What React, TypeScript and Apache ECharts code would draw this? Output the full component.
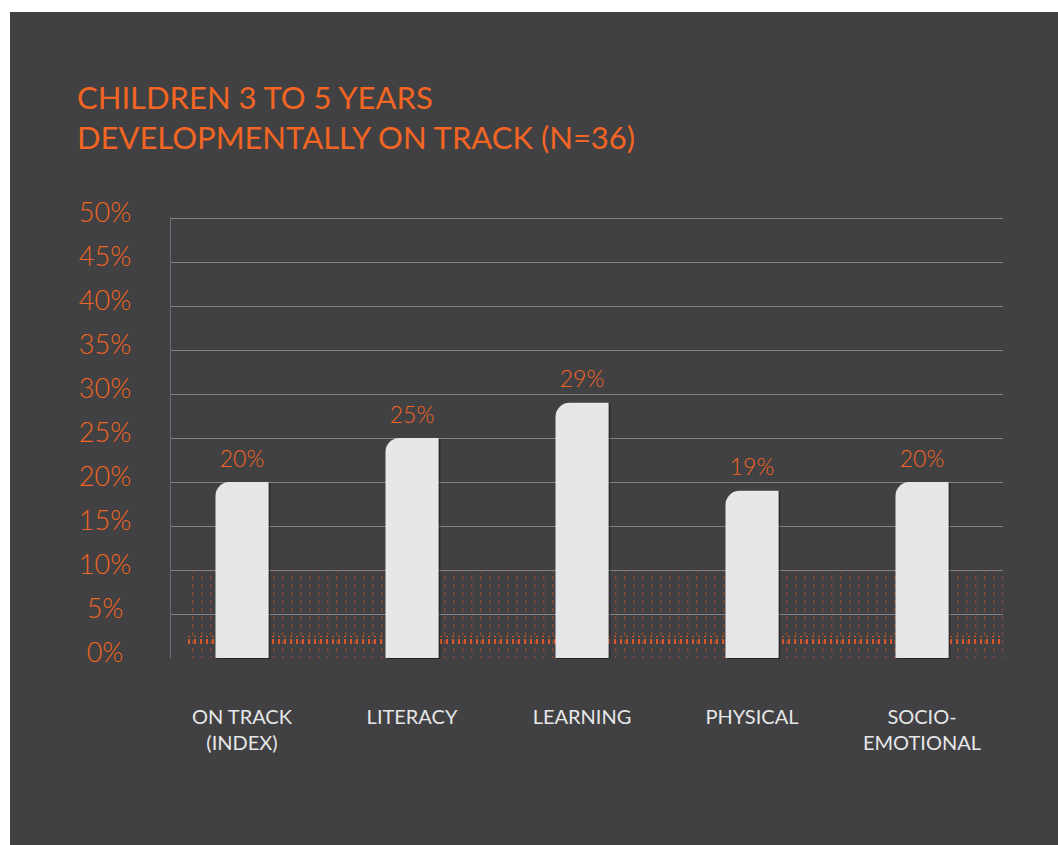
import React, { useEffect, useRef } from "react";
import * as echarts from "echarts";

const titleLines = ["CHILDREN 3 TO 5 YEARS", "DEVELOPMENTALLY ON TRACK (N=36)"];
const categories = ["ON TRACK\n(INDEX)", "LITERACY", "LEARNING", "PHYSICAL", "SOCIO-\nEMOTIONAL"];
const values = [20, 25, 29, 19, 20];
const yTicks = { min: 0, max: 50, interval: 5 };

const ORANGE = "#f26522";
const DARK = "#414042";
const BAR = "#e6e7e8";

function makeTile(w: number, h: number, dx: number, dw: number, dh: number, color: string) {
  const c = document.createElement("canvas");
  c.width = w;
  c.height = h;
  const ctx = c.getContext("2d")!;
  ctx.fillStyle = color;
  ctx.fillRect(dx, 0, dw, dh);
  return c;
}

export default function App() {
  const ref = useRef<HTMLDivElement>(null);
  useEffect(() => {
    if (!ref.current) return;
    const chart = echarts.init(ref.current, undefined, { renderer: "svg" });
    const faint = makeTile(9, 8, 3, 1.5, 4, "rgba(241,90,36,0.36)");
    const band = makeTile(6, 9, 2, 2, 7, "rgba(241,90,36,0.85)");
    chart.setOption({
      animation: false,
      backgroundColor: "#ffffff",
      graphic: [
        {
          type: "rect",
          z: -10,
          shape: { x: 10, y: 12, width: 1048, height: 833 },
          style: { fill: DARK },
          silent: true,
        },
      ],
      title: {
        text: titleLines.join("\n"),
        left: 77,
        top: 77,
        padding: 0,
        textStyle: {
          color: ORANGE,
          fontFamily: "Lato",
          fontSize: 31,
          fontWeight: "normal",
          lineHeight: 40,
        },
      },
      grid: [
        { left: 170, right: 55, top: 218, bottom: 187 },
        { left: 157, right: 51, top: 218, bottom: 187 },
      ],
      xAxis: [
        { type: "value", gridIndex: 0, min: 0, max: 1, show: false },
        {
          type: "category",
          gridIndex: 1,
          data: categories,
          axisLine: { show: false },
          axisTick: { show: false },
          axisLabel: {
            color: "#e6e7e8",
            fontFamily: "Lato",
            fontSize: 20,
            lineHeight: 26,
            margin: 45,
            interval: 0,
          },
        },
      ],
      yAxis: [
        {
          type: "value",
          gridIndex: 0,
          min: yTicks.min,
          max: yTicks.max,
          interval: yTicks.interval,
          axisLine: { show: true, lineStyle: { color: "#6d6e71", width: 1 } },
          axisTick: { show: false },
          axisLabel: {
            color: ORANGE,
            fontFamily: "Lato",
            fontWeight: 300,
            fontSize: 27,
            align: "center",
            verticalAlign: "bottom",
            lineHeight: 14,
            margin: 65,
            formatter: "{value}%",
          },
          splitLine: { show: true, showMinLine: false, lineStyle: { color: "#838385", width: 1 } },
        },
        {
          type: "value",
          gridIndex: 1,
          min: yTicks.min,
          max: yTicks.max,
          interval: yTicks.interval,
          show: false,
          splitLine: { show: false },
        },
      ],
      series: [
        {
          type: "line",
          xAxisIndex: 0,
          yAxisIndex: 0,
          data: [],
          silent: true,
          markArea: {
            silent: true,
            data: [
              [
                { xAxis: 0.02, yAxis: 0, itemStyle: { color: { image: faint, repeat: "repeat" } } },
                { xAxis: 1, yAxis: 10 },
              ],
              [
                { xAxis: 0.02, yAxis: 1.6, itemStyle: { color: { image: band, repeat: "repeat" } } },
                { xAxis: 1, yAxis: 2.5 },
              ],
            ],
          },
        },
        {
          type: "bar",
          xAxisIndex: 1,
          yAxisIndex: 1,
          data: values,
          barWidth: 53,
          z: 5,
          itemStyle: {
            color: BAR,
            borderRadius: [14, 0, 0, 0],
            shadowColor: "rgba(0,0,0,0.45)",
            shadowOffsetX: 1.5,
            shadowOffsetY: 1,
            shadowBlur: 1,
          },
          label: {
            show: true,
            position: "top",
            distance: 13,
            color: ORANGE,
            fontFamily: "Lato",
            fontWeight: 300,
            fontSize: 23,
            formatter: "{c}%",
          },
        },
      ],
    });
    return () => chart.dispose();
  }, []);
  return (
    <div
      ref={ref}
      style={{ position: "fixed", left: 0, top: 0, width: 1058, height: 845 }}
    />
  );
}
